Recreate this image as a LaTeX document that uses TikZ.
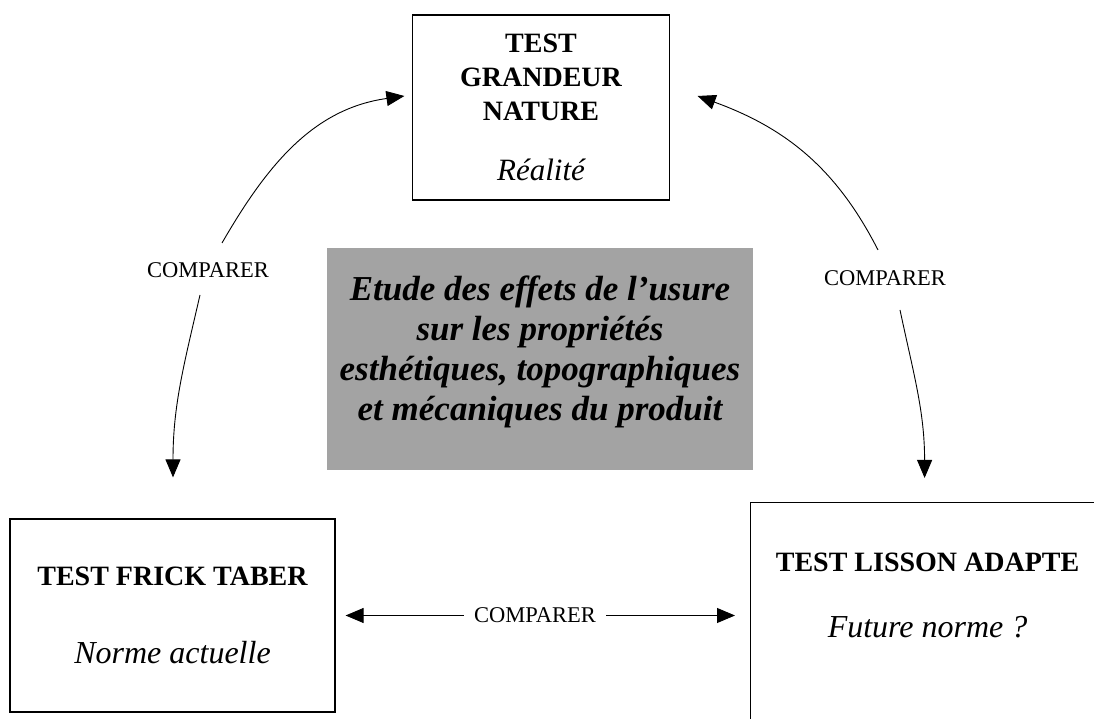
\documentclass[tikz,border=0pt]{standalone}
\usepackage{fontspec}
\setmainfont{Liberation Serif}
\usetikzlibrary{arrows.meta,positioning}

\begin{document}
\begin{tikzpicture}[x=1pt,y=1pt,
    box/.style={draw,line width=1.2pt,align=center,inner sep=0pt},
    arr/.style={-{Triangle[length=18pt,width=15pt]},line width=0.9pt},
    cmp/.style={inner sep=4pt,font=\fontsize{22.5}{26}\selectfont}]
  \useasboundingbox (0,0) rectangle (1094,719);
  \clip (0,0) rectangle (1094,719);
  \node[box,minimum width=257,minimum height=185,font=\bfseries\fontsize{28}{34}\selectfont] (grandeur) at (541,611.5)
    {TEST\\GRANDEUR\\NATURE\\[26pt]{\normalfont\itshape\fontsize{31}{34}\selectfont Réalité}};
  \node[fill=black!36,minimum width=426,minimum height=222,align=center,text depth=22pt,
    font=\bfseries\itshape\fontsize{35}{40}\selectfont] (etude) at (540,360)
    {Etude des effets de l’usure\\sur les propriétés\\esthétiques, topographiques\\et mécaniques du produit};
  \node[box,minimum width=325,minimum height=193] (frick) at (172.5,103.5)
    {{\bfseries\fontsize{28}{34}\selectfont TEST FRICK TABER}\\[55pt]{\itshape\fontsize{32}{36}\selectfont Norme actuelle}};
  \node[box,minimum width=354,minimum height=240,anchor=north west] (adapte) at (750,217) {};
  \node[align=center,inner sep=0pt,below=51pt of adapte.north] (lisson)
    {{\bfseries\fontsize{28}{34}\selectfont TEST LISSON ADAPTE}\\[43pt]{\itshape\fontsize{32}{36}\selectfont Future norme ?}};
  \node[cmp] (cmpL) at (208,449) {COMPARER};
  \node[cmp] (cmpR) at (885,441) {COMPARER};
  \node[cmp,inner xsep=10pt] (cmpB) at (535,103.5) {COMPARER};
  % comparaisons
  \path[arr] ([shift={(14,27)}]cmpL.center) edge[out=60,in=188] ([shift={(-7.5,11.5)}]grandeur.west);
  \path[arr] ([shift={(-8,-25)}]cmpL.center) edge[out=257,in=90] ([shift={(0.5,41)}]frick.north);
  \path[arr] ([shift={(-7,28)}]cmpR.center) edge[out=117,in=-20] ([shift={(27.5,11.5)}]grandeur.east);
  \path[arr] ([shift={(15,-32)}]cmpR.center) edge[out=282,in=90] ([shift={(-3,24)}]adapte.north);
  \path[arr] (cmpB) edge[shorten >=10pt] (frick);
  \path[arr] (cmpB) edge[shorten >=15pt] (cmpB -| adapte.west);
\end{tikzpicture}
\end{document}
